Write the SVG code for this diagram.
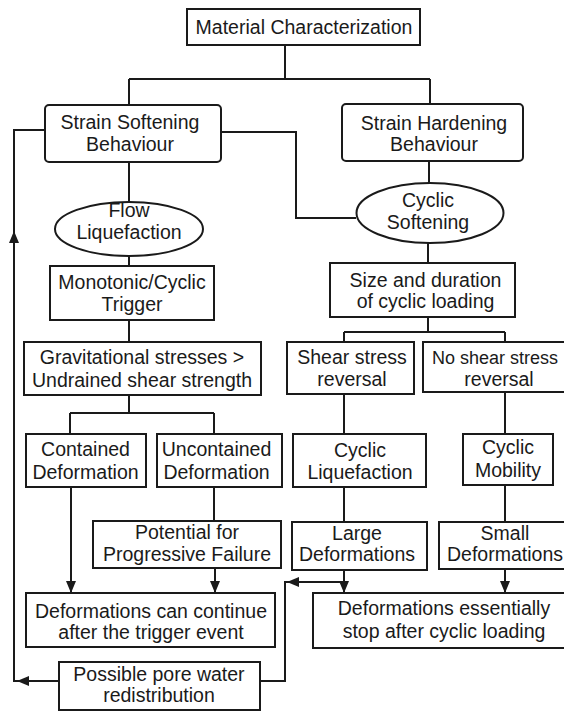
<svg xmlns="http://www.w3.org/2000/svg" width="564" height="711" viewBox="0 0 564 711">
<style>
.box{fill:#fff;stroke:#1a1a1a;stroke-width:2}
.ln{fill:none;stroke:#1a1a1a;stroke-width:2}
text{font-family:"Liberation Sans",Arial,Helvetica,sans-serif;font-size:19.5px;fill:#1a1a1a;text-anchor:middle}
</style>
<defs>
<marker id="ah" viewBox="0 0 12 10" refX="12" refY="5" markerWidth="12" markerHeight="10" markerUnits="userSpaceOnUse" orient="auto">
<path d="M0,0 L12,5 L0,10 Z" fill="#1a1a1a"/>
</marker>
</defs>
<rect width="564" height="711" fill="#fff"/>
<g id="connectors">
<path class="ln" d="M285 45 V79 M129 79 H430 M129 79 V105 M430 79 V104"/>
<path class="ln" d="M129 162 V202 M129 256 V266 M129 320 V342"/>
<path class="ln" d="M129 395 V413 M70 413 H214 M70 413 V434 M214 413 V434"/>
<path class="ln" d="M71 487 V593" marker-end="url(#ah)"/>
<path class="ln" d="M214 487 V521"/>
<path class="ln" d="M215 568 V593" marker-end="url(#ah)"/>
<path class="ln" d="M221 132 H296 V218 H356"/>
<path class="ln" d="M429 161 V183 M428 243 V263"/>
<path class="ln" d="M428 317 V332 M344 332 H505 M344 332 V342 M505 332 V342"/>
<path class="ln" d="M344 394 V434 M505 392 V434 M344 487 V522 M505 485 V522"/>
<path class="ln" d="M344 570 V593" marker-end="url(#ah)"/>
<path class="ln" d="M505 569 V593" marker-end="url(#ah)"/>
<path class="ln" d="M344 582 H287" marker-end="url(#ah)"/>
<path class="ln" d="M288 582 H285 V681 H260"/>
<path class="ln" d="M59 681 H17" marker-end="url(#ah)"/>
<path class="ln" d="M18 681 H14 V231" marker-end="url(#ah)"/>
<path class="ln" d="M14 232 V130 H45"/>
</g>
<g id="material">
<rect class="box" x="187" y="9" width="233" height="36"/>
<text x="304" y="34">Material Characterization</text>
</g>
<g id="strain-softening">
<rect class="box" x="45" y="105" width="176" height="57" rx="4"/>
<text x="130" y="128.5">Strain Softening</text>
<text x="130" y="151">Behaviour</text>
</g>
<g id="strain-hardening">
<rect class="box" x="342" y="104" width="181" height="57" rx="4"/>
<text x="434" y="129.5">Strain Hardening</text>
<text x="434" y="151">Behaviour</text>
</g>
<g id="flow-liquefaction">
<ellipse class="box" cx="129" cy="229" rx="74" ry="27"/>
<text x="129" y="216.5">Flow</text>
<text x="129" y="239">Liquefaction</text>
</g>
<g id="cyclic-softening">
<ellipse class="box" cx="430" cy="213" rx="73.5" ry="30"/>
<text x="428" y="206.5">Cyclic</text>
<text x="428" y="229">Softening</text>
</g>
<g id="monotonic">
<rect class="box" x="50" y="266" width="164" height="54"/>
<text x="132" y="289">Monotonic/Cyclic</text>
<text x="132" y="311">Trigger</text>
</g>
<g id="size-duration">
<rect class="box" x="330" y="263" width="185" height="54"/>
<text x="425.5" y="286.5">Size and duration</text>
<text x="425.5" y="308">of cyclic loading</text>
</g>
<g id="gravitational">
<rect class="box" x="24" y="342" width="237" height="53"/>
<text x="142" y="364">Gravitational stresses &gt;</text>
<text x="142" y="386.5">Undrained shear strength</text>
</g>
<g id="shear-reversal">
<rect class="box" x="287" y="342" width="127" height="52"/>
<text x="352" y="363.5">Shear stress</text>
<text x="352" y="385.5">reversal</text>
</g>
<g id="no-shear-reversal">
<rect class="box" x="423" y="342" width="152" height="50"/>
<text x="495" y="363.5" style="font-size:18px">No shear stress</text>
<text x="499" y="385.5">reversal</text>
</g>
<g id="contained">
<rect class="box" x="26" y="434" width="120" height="53"/>
<text x="85.5" y="456">Contained</text>
<text x="85.5" y="478.5">Deformation</text>
</g>
<g id="uncontained">
<rect class="box" x="157" y="434" width="125" height="53"/>
<text x="216.5" y="456">Uncontained</text>
<text x="216.5" y="478.5">Deformation</text>
</g>
<g id="cyclic-liquefaction">
<rect class="box" x="293" y="434" width="133" height="53"/>
<text x="360" y="456.5">Cyclic</text>
<text x="360" y="479">Liquefaction</text>
</g>
<g id="cyclic-mobility">
<rect class="box" x="463" y="434" width="90" height="51"/>
<text x="508" y="454">Cyclic</text>
<text x="508" y="476.5">Mobility</text>
</g>
<g id="progressive-failure">
<rect class="box" x="93" y="521" width="188" height="47"/>
<text x="187" y="538.5">Potential for</text>
<text x="187" y="561">Progressive Failure</text>
</g>
<g id="large-deformations">
<rect class="box" x="292" y="522" width="135" height="48"/>
<text x="357" y="540">Large</text>
<text x="357" y="561">Deformations</text>
</g>
<g id="small-deformations">
<rect class="box" x="439" y="522" width="130" height="47"/>
<text x="505" y="540">Small</text>
<text x="505" y="561">Deformations</text>
</g>
<g id="deformations-continue">
<rect class="box" x="26" y="593" width="249" height="54"/>
<text x="151" y="617.5">Deformations can continue</text>
<text x="151" y="639">after the trigger event</text>
</g>
<g id="deformations-stop">
<rect class="box" x="313" y="593" width="262" height="55"/>
<text x="444" y="615">Deformations essentially</text>
<text x="444" y="637.5">stop after cyclic loading</text>
</g>
<g id="pore-water">
<rect class="box" x="59" y="662" width="201" height="48"/>
<text x="159" y="680.5">Possible pore water</text>
<text x="159" y="702">redistribution</text>
</g>
</svg>
